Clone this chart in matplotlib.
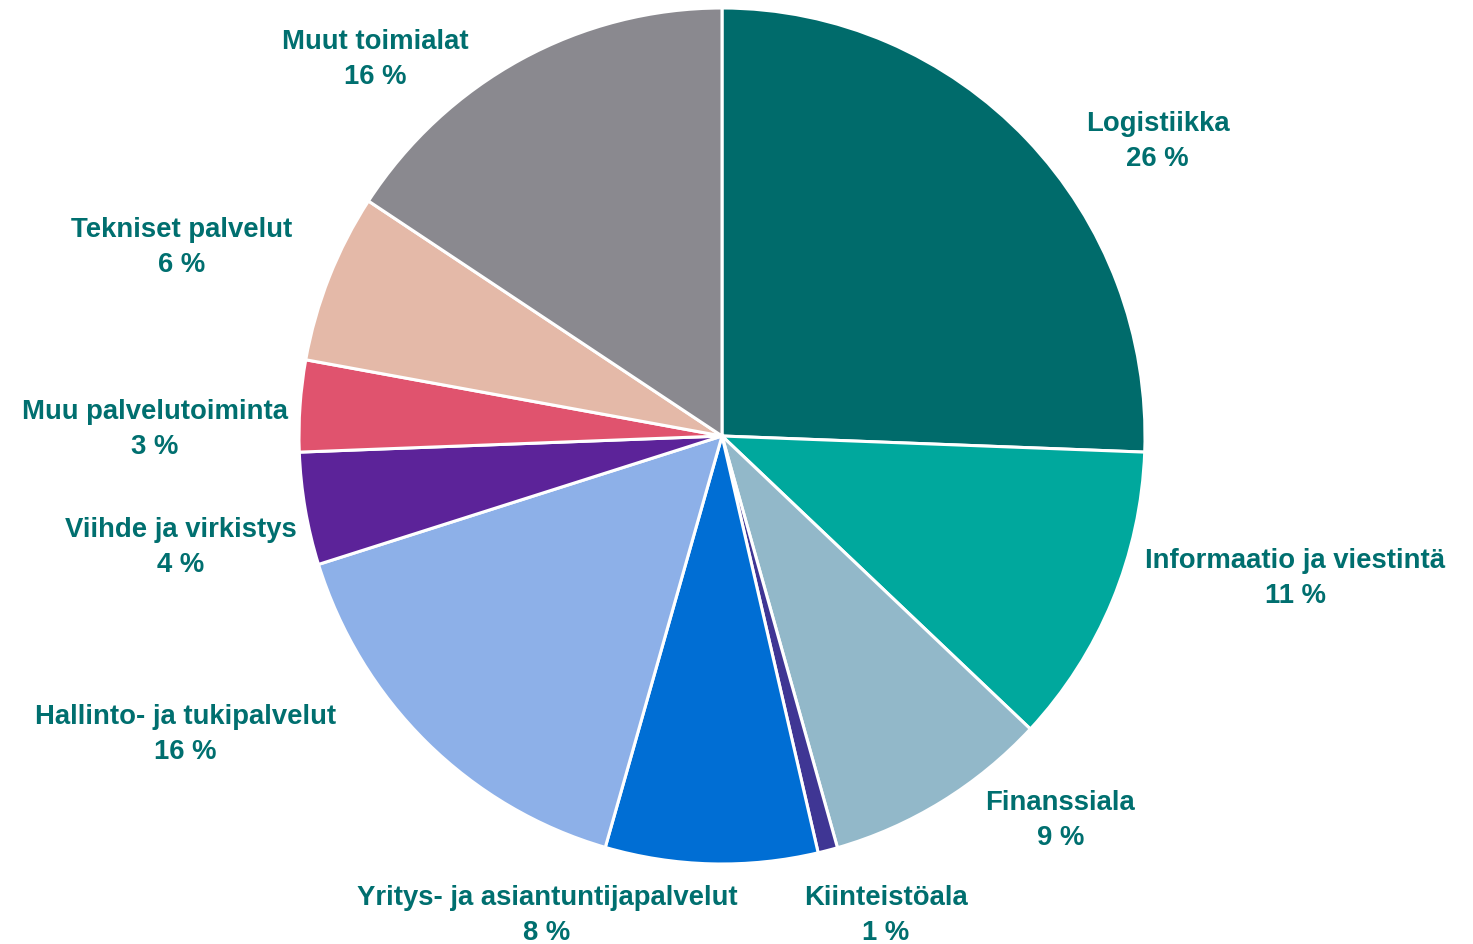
import matplotlib

matplotlib.use("Agg")
import matplotlib.pyplot as plt

# Share of companies by industry (%), clockwise from 12 o'clock
categories = [
    "Logistiikka", "Informaatio ja viestintä", "Finanssiala", "Kiinteistöala",
    "Yritys- ja asiantuntijapalvelut", "Hallinto- ja tukipalvelut",
    "Viihde ja virkistys", "Muu palvelutoiminta", "Tekniset palvelut",
    "Muut toimialat",
]
shares = [25.6, 11.4, 8.6, 0.75, 8.1, 15.7, 4.25, 3.45, 6.4, 15.75]
colors = [
    "#006B6B", "#00A89D", "#92B8C9", "#3F3694", "#006ED4", "#8DB0E8",
    "#5C2399", "#E0536E", "#E4B9A8", "#8A898F",
]
# label anchor points, in pie-radius units relative to the centre
label_pos = [
    (1.03, 0.69), (1.355, -0.33), (0.80, -0.895), (0.388, -1.117),
    (-0.414, -1.118), (-1.268, -0.695), (-1.28, -0.258), (-1.341, 0.017),
    (-1.278, 0.443), (-0.819, 0.883),
]
TEXT_COLOR = "#006F6F"

plt.rcParams["font.family"] = ["Liberation Sans", "DejaVu Sans"]

fig = plt.figure(figsize=(14.73, 9.45), dpi=100)
ax = fig.add_axes([0, 0, 1, 1])
ax.pie(shares, colors=colors, startangle=90, counterclock=False,
       wedgeprops=dict(edgecolor="white", linewidth=2.2))
ax.set_aspect("auto")
ax.set_xlim(-722 / 423, (1473 - 722) / 423)
ax.set_ylim(-(945 - 437) / 428, 437 / 428)
ax.axis("off")

total = sum(shares)
for name, val, (x, y) in zip(categories, shares, label_pos):
    pct = round(val / total * 100)
    ax.text(x, y, f"{name}\n{pct} %", ha="center", va="center",
            fontsize=19.8, fontweight="bold", color=TEXT_COLOR, linespacing=1.45)

fig.savefig("out.png", dpi=100, facecolor="white")
